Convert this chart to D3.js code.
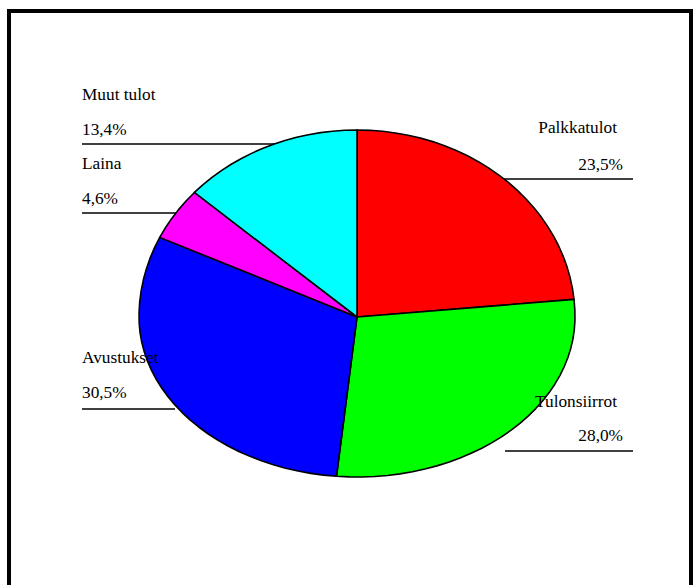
<!DOCTYPE html>
<html>
<head>
<meta charset="utf-8">
<script src="https://cdn.jsdelivr.net/npm/d3@7"></script>
<style>
  html, body { margin: 0; padding: 0; background: #fff; }
  svg { display: block; }
</style>
</head>
<body>
<svg id="chart" width="695" height="585"></svg>
<script>
// ---- data ----
const categories = ["Palkkatulot", "Tulonsiirrot", "Avustukset", "Laina", "Muut tulot"];
const values = [23.5, 28.0, 30.5, 4.6, 13.4];
const valueLabels = ["23,5%", "28,0%", "30,5%", "4,6%", "13,4%"];
const colors = ["#ff0000", "#00ff00", "#0000ff", "#ff00ff", "#00ffff"];

// ---- layout ----
const FONT = "'Liberation Serif', 'DejaVu Serif', serif";
const svg = d3.select("#chart");
const cx = 357, cy = 317, rx = 218, ryTop = 187, ryBot = 160;

// frame
svg.append("rect").attr("x", 9).attr("y", 11).attr("width", 682).attr("height", 640)
  .attr("fill", "none").attr("stroke", "#000").attr("stroke-width", 4);

// label placement per category
const labelLayout = {
  "Palkkatulot":  { side: "right", ny: 133, vy: 170, ly: 179, x1: 500, x2: 633 },
  "Tulonsiirrot": { side: "right", ny: 407, vy: 441, ly: 451, x1: 505, x2: 633 },
  "Avustukset":   { side: "left",  ny: 363, vy: 398, ly: 409, x1: 82,  x2: 175 },
  "Laina":        { side: "left",  ny: 169, vy: 204, ly: 213, x1: 82,  x2: 182 },
  "Muut tulot":   { side: "left",  ny: 100, vy: 135, ly: 144, x1: 82,  x2: 280 }
};

const gLines = svg.append("g");
const gPie = svg.append("g");
const gText = svg.append("g")
  .attr("font-family", FONT).attr("font-size", 17.3).attr("fill", "#000");

// leader lines (under the pie)
categories.forEach(c => {
  const L = labelLayout[c];
  gLines.append("line").attr("x1", L.x1).attr("x2", L.x2).attr("y1", L.ly).attr("y2", L.ly)
    .attr("stroke", "#000").attr("stroke-width", 1.3);
});

// pie
const arcs = d3.pie().sort(null).value(d => d)(values);
function pt(t) {
  const c = Math.cos(t);
  return [cx + rx * Math.sin(t), cy - (c >= 0 ? ryTop : ryBot) * c];
}
const line = d3.line();
arcs.forEach((a, i) => {
  const pts = [[cx, cy]];
  const n = Math.max(4, Math.ceil((a.endAngle - a.startAngle) / 0.06));
  for (let k = 0; k <= n; k++) {
    pts.push(pt(a.startAngle + (a.endAngle - a.startAngle) * k / n));
  }
  gPie.append("path").attr("d", line(pts) + "Z")
    .attr("fill", colors[i]).attr("stroke", "#000").attr("stroke-width", 1.6)
    .attr("stroke-linejoin", "round");
});

// labels
categories.forEach((c, i) => {
  const L = labelLayout[c];
  if (L.side === "right") {
    gText.append("text").attr("x", 617).attr("y", L.ny).attr("text-anchor", "end")
      .style("font-family", FONT).text(c);
    gText.append("text").attr("x", 623).attr("y", L.vy).attr("text-anchor", "end")
      .style("font-family", FONT).text(valueLabels[i]);
  } else {
    gText.append("text").attr("x", 82).attr("y", L.ny).style("font-family", FONT).text(c);
    gText.append("text").attr("x", 82).attr("y", L.vy).style("font-family", FONT).text(valueLabels[i]);
  }
});
</script>
</body>
</html>
